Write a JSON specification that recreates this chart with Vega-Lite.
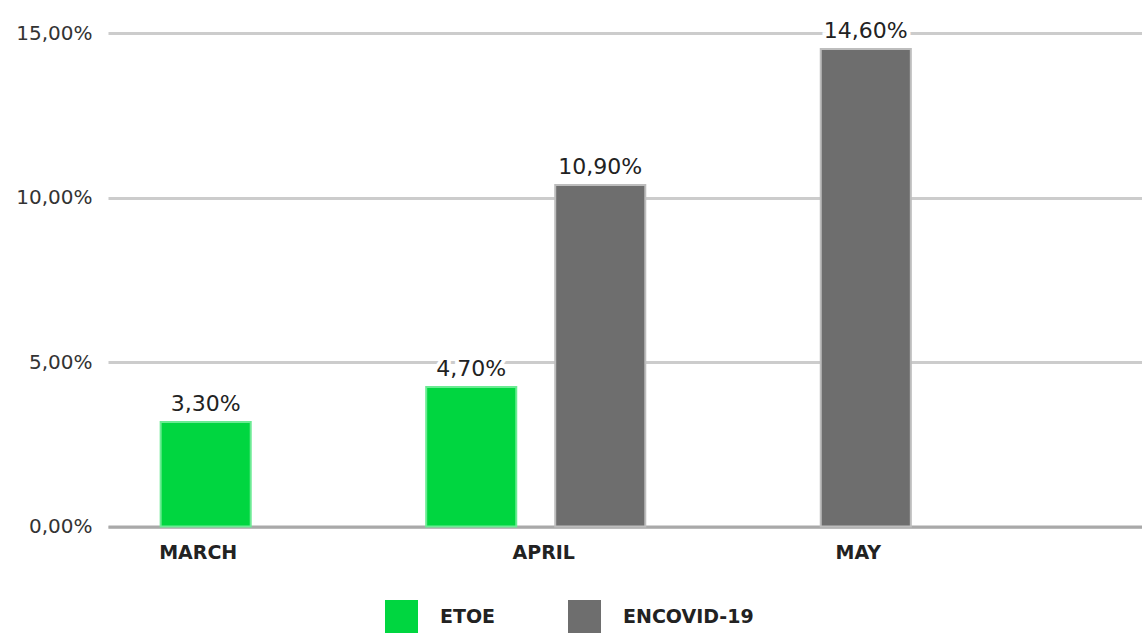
{
  "$schema": "https://vega.github.io/schema/vega-lite/v6.json",
  "autosize": "none",
  "width": 1034,
  "height": 493.5,
  "padding": {"left": 108, "top": 33, "right": 0, "bottom": 106.5},
  "background": "white",
  "config": {"view": {"stroke": null}, "font": "DejaVu Sans"},
  "data": {
    "values": [
      {"month": "MARCH", "series": "ETOE", "value": 3.18, "label": "3,30%"},
      {"month": "APRIL", "series": "ETOE", "value": 4.24, "label": "4,70%"},
      {"month": "APRIL", "series": "ENCOVID-19", "value": 10.38, "label": "10,90%"},
      {"month": "MAY", "series": "ENCOVID-19", "value": 14.51, "label": "14,60%"}
    ]
  },
  "encoding": {
    "x": {
      "field": "month",
      "type": "nominal",
      "sort": ["MARCH", "APRIL", "MAY"],
      "scale": {"paddingInner": 0, "paddingOuter": 0.447, "align": 0.124},
      "axis": {
        "title": null,
        "ticks": false,
        "tickSize": 0,
        "labelPadding": 17,
        "labelFont": "DejaVu Sans",
        "labelFontSize": 19,
        "labelFontWeight": "bold",
        "labelColor": "#222222",
        "labelAngle": 0,
        "domain": true,
        "domainColor": "#A9A9A9",
        "domainWidth": 3,
        "labelOffset": {
          "condition": [
            {"test": "datum.value === 'MARCH'", "value": -72},
            {"test": "datum.value === 'MAY'", "value": 57}
          ],
          "value": 8
        }
      }
    },
    "xOffset": {
      "field": "series",
      "type": "nominal",
      "sort": ["ETOE", "ENCOVID-19"],
      "scale": {"paddingInner": 0.302, "paddingOuter": 0.18}
    },
    "y": {
      "field": "value",
      "type": "quantitative",
      "scale": {"domain": [0, 15], "nice": false},
      "axis": {
        "title": null,
        "values": [0, 5, 10, 15],
        "labelExpr": "replace(format(datum.value, '.2f'), '.', ',') + '%'",
        "domain": false,
        "ticks": false,
        "tickSize": 0,
        "labelPadding": 16,
        "labelFont": "DejaVu Sans",
        "labelFontSize": 20,
        "labelColor": "#333333",
        "gridColor": "#CCCCCC",
        "gridWidth": 3
      }
    }
  },
  "layer": [
    {
      "mark": {"type": "bar", "strokeWidth": 2},
      "encoding": {
        "color": {
          "field": "series",
          "type": "nominal",
          "scale": {"domain": ["ETOE", "ENCOVID-19"], "range": ["#00D640", "#6E6E6E"]},
          "legend": {
            "title": null,
            "orient": "none",
            "legendX": 277,
            "legendY": 567,
            "direction": "horizontal",
            "symbolType": "square",
            "symbolSize": 1089,
            "symbolStrokeWidth": 0,
            "labelFont": "DejaVu Sans",
            "labelFontSize": 19,
            "labelFontWeight": "bold",
            "labelColor": "#222222",
            "labelOffset": 22,
            "columnPadding": 72
          }
        },
        "stroke": {
          "field": "series",
          "type": "nominal",
          "scale": {"domain": ["ETOE", "ENCOVID-19"], "range": ["#6BEB93", "#BDBDBD"]},
          "legend": null
        }
      }
    },
    {
      "mark": {"type": "text", "baseline": "alphabetic", "dy": -11, "fontSize": 22, "font": "DejaVu Sans", "stroke": "white", "strokeWidth": 8, "fill": "white"},
      "encoding": {"text": {"field": "label"}}
    },
    {
      "mark": {"type": "text", "baseline": "alphabetic", "dy": -11, "fontSize": 22, "font": "DejaVu Sans", "fill": "#222222"},
      "encoding": {"text": {"field": "label"}}
    }
  ]
}
